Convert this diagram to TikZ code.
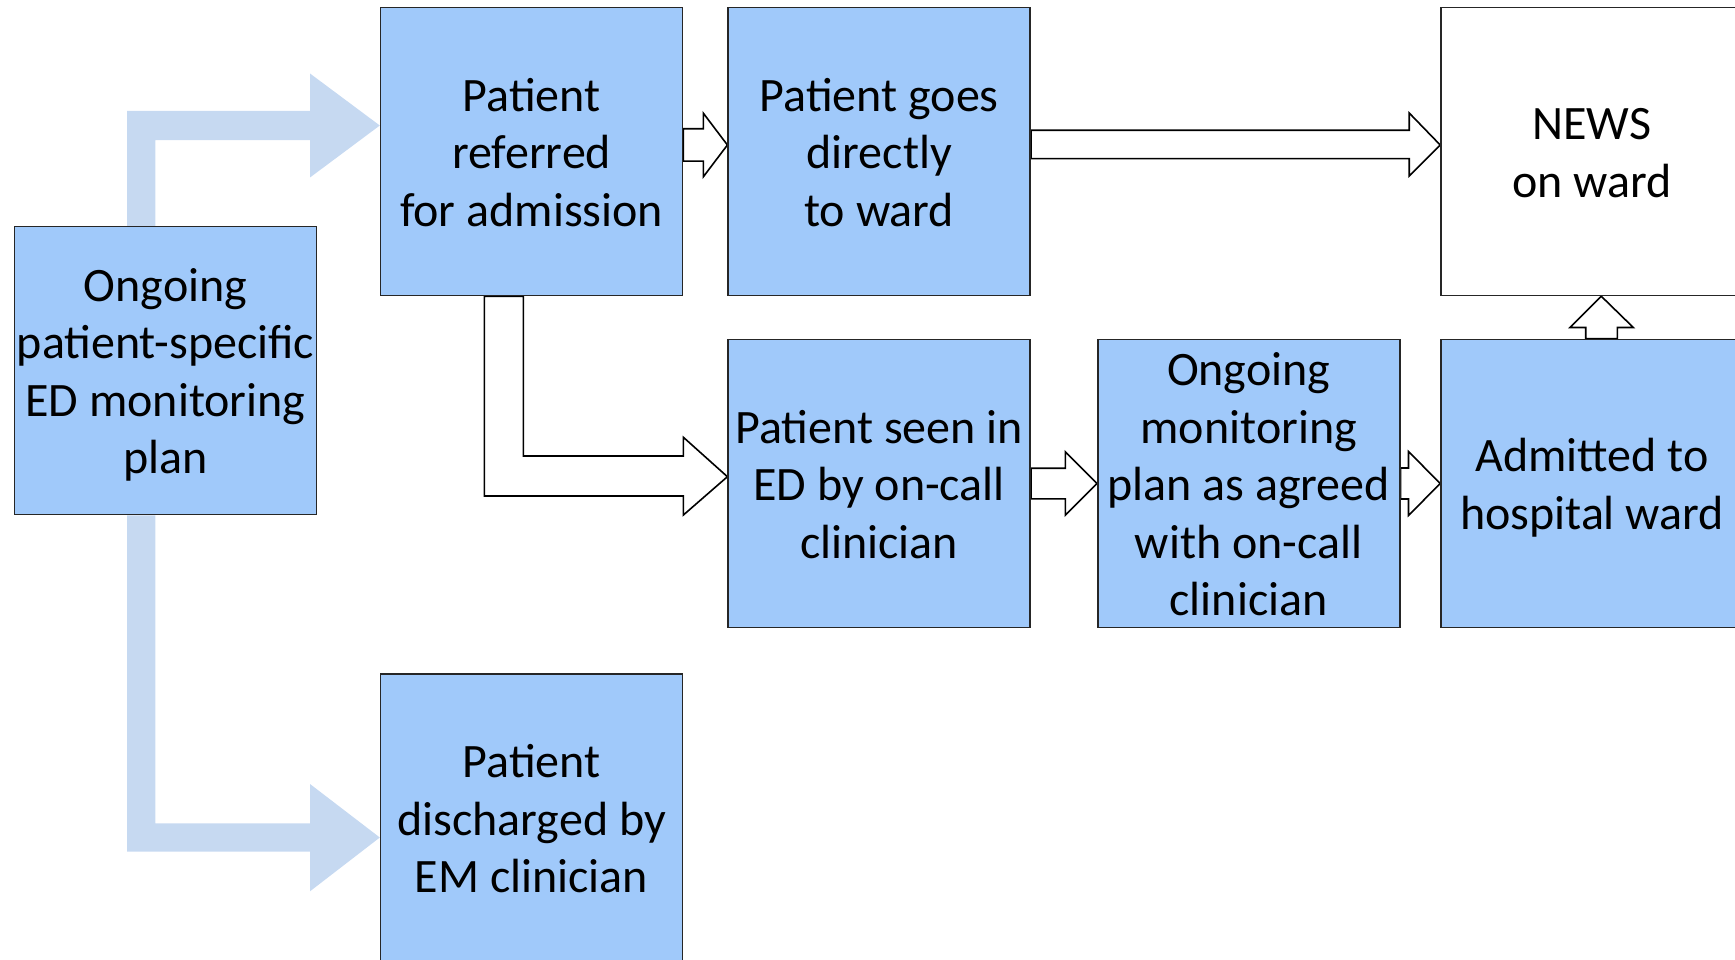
\documentclass[tikz,border=0pt]{standalone}
\usepackage{fontspec}
\setmainfont{Carlito}
\usetikzlibrary{calc}
\pgfdeclarelayer{bg}
\pgfsetlayers{bg,main}
\definecolor{boxblue}{RGB}{160,201,250}
\definecolor{flowblue}{RGB}{198,217,241}
\newcommand{\tsup}{\rule{0pt}{46pt}}
\newcommand{\tsdn}{\rule[-12pt]{0pt}{12pt}}
\tikzset{
  box/.style={draw=black!85, line width=1.6pt, fill=boxblue, minimum width=302pt,
    minimum height=288pt, inner sep=0pt, align=center, text=black,
    font=\fontsize{48}{57.5}\selectfont},
  wbox/.style={box, fill=white},
  hollow/.style={draw=black, fill=white, line width=1.6pt, line join=miter},
  flow/.style={fill=flowblue, draw=none}
}
\begin{document}
\begin{tikzpicture}[x=1pt,y=-1pt]
\path[use as bounding box] (0,0) rectangle (1735,960);
\clip (0,0) rectangle (1735,960);

\node[box]  (A) at (165.5,370.6) {\tsup Ongoing\\patient-specific\\ED monitoring\\plan\tsdn};
\node[box]  (B) at (531.6,151.5) {\tsup Patient\\referred\\for admission\tsdn};
\node[box]  (C) at (879.2,151.5) {\tsup Patient goes\\directly\\to ward\tsdn};
\node[wbox] (D) at (1592,151.5) {\tsup NEWS\\on ward\tsdn};
\node[box]  (E) at (879.2,483.5) {\tsup Patient seen in\\ED by on-call\\clinician\tsdn};
\node[box]  (F) at (1248.7,483.5) {\tsup Ongoing\\monitoring\\plan as agreed\\with on-call\\clinician\tsdn};
\node[box]  (G) at (1592,483.5) {\tsup Admitted to\\hospital ward\tsdn};
\node[box]  (H) at (531.6,818) {\tsup Patient\\discharged by\\EM clinician\tsdn};

\begin{pgfonlayer}{bg}
  % light blue flow arrows from A
  \coordinate (ut) at ($(B.west)+(0,-26)$);
  \fill[flow] ($(A.north)+(-38.3,0)$) |- ($(ut)+(-69.8,-14.6)$)
     -- ($(ut)+(-69.8,-52)$) -- (ut) -- ($(ut)+(-69.8,52)$)
     -- ($(ut)+(-69.8,14.6)$) -| ($(A.north)+(-10.1,0)$) -- cycle;
  \coordinate (lt) at ($(H.west)+(0,19.5)$);
  \fill[flow] ($(A.south)+(-38.3,0)$) |- ($(lt)+(-69.8,14.2)$)
     -- ($(lt)+(-69.8,53.8)$) -- (lt) -- ($(lt)+(-69.8,-53.5)$)
     -- ($(lt)+(-69.8,-14.2)$) -| ($(A.south)+(-10.1,0)$) -- cycle;

  % B -> C
  \draw[hollow] ($(B.east)+(0,-22.7)$) -- ($(C.west)+(-24,-22.7)$)
     -- ($(C.west)+(-24,-38.2)$) -- ($(C.west)+(0,-6.5)$)
     -- ($(C.west)+(-24,25.2)$) -- ($(C.west)+(-24,9.7)$)
     -- ($(B.east)+(0,9.7)$) -- cycle;
  % C -> D
  \draw[hollow] ($(C.east)+(0,-21.2)$) -- ($(D.west)+(-31,-21.2)$)
     -- ($(D.west)+(-31,-38.5)$) -- ($(D.west)+(0,-6.5)$)
     -- ($(D.west)+(-31,24.5)$) -- ($(D.west)+(-31,7.2)$)
     -- ($(C.east)+(0,7.2)$) -- cycle;
  % B -> E
  \draw[hollow] ($(B.south)+(-8.3,0)$) |- ($(E.west)+(-44,-27.5)$)
     -- ($(E.west)+(-44,-46.2)$) -- ($(E.west)+(0,-6.8)$)
     -- ($(E.west)+(-44,31.5)$) -- ($(E.west)+(-44,12.5)$)
     -| ($(B.south)+(-47.3,0)$) -- cycle;
  % E -> F
  \draw[hollow] ($(E.east)+(0,-15.3)$) -- ($(F.west)+(-31.6,-15.3)$)
     -- ($(F.west)+(-31.6,-31.6)$) -- (F.west)
     -- ($(F.west)+(-31.6,31.6)$) -- ($(F.west)+(-31.6,15.3)$)
     -- ($(E.east)+(0,15.3)$) -- cycle;
  % F -> G
  \draw[hollow] ($(F.east)+(0,-15.5)$) -- ($(G.west)+(-31.7,-15.5)$)
     -- ($(G.west)+(-31.7,-32)$) -- (G.west)
     -- ($(G.west)+(-31.7,32)$) -- ($(G.west)+(-31.7,15.5)$)
     -- ($(F.east)+(0,15.5)$) -- cycle;
  % G -> D
  \draw[hollow] ($(G.north)+(-6.3,0)$) -- ($(D.south)+(-6.3,31.2)$)
     -- ($(D.south)+(-22,31.2)$) -- ($(D.south)+(9.3,0)$)
     -- ($(D.south)+(41.3,31.2)$) -- ($(D.south)+(25.3,31.2)$)
     -- ($(G.north)+(25.3,0)$) -- cycle;
\end{pgfonlayer}
\end{tikzpicture}
\end{document}
